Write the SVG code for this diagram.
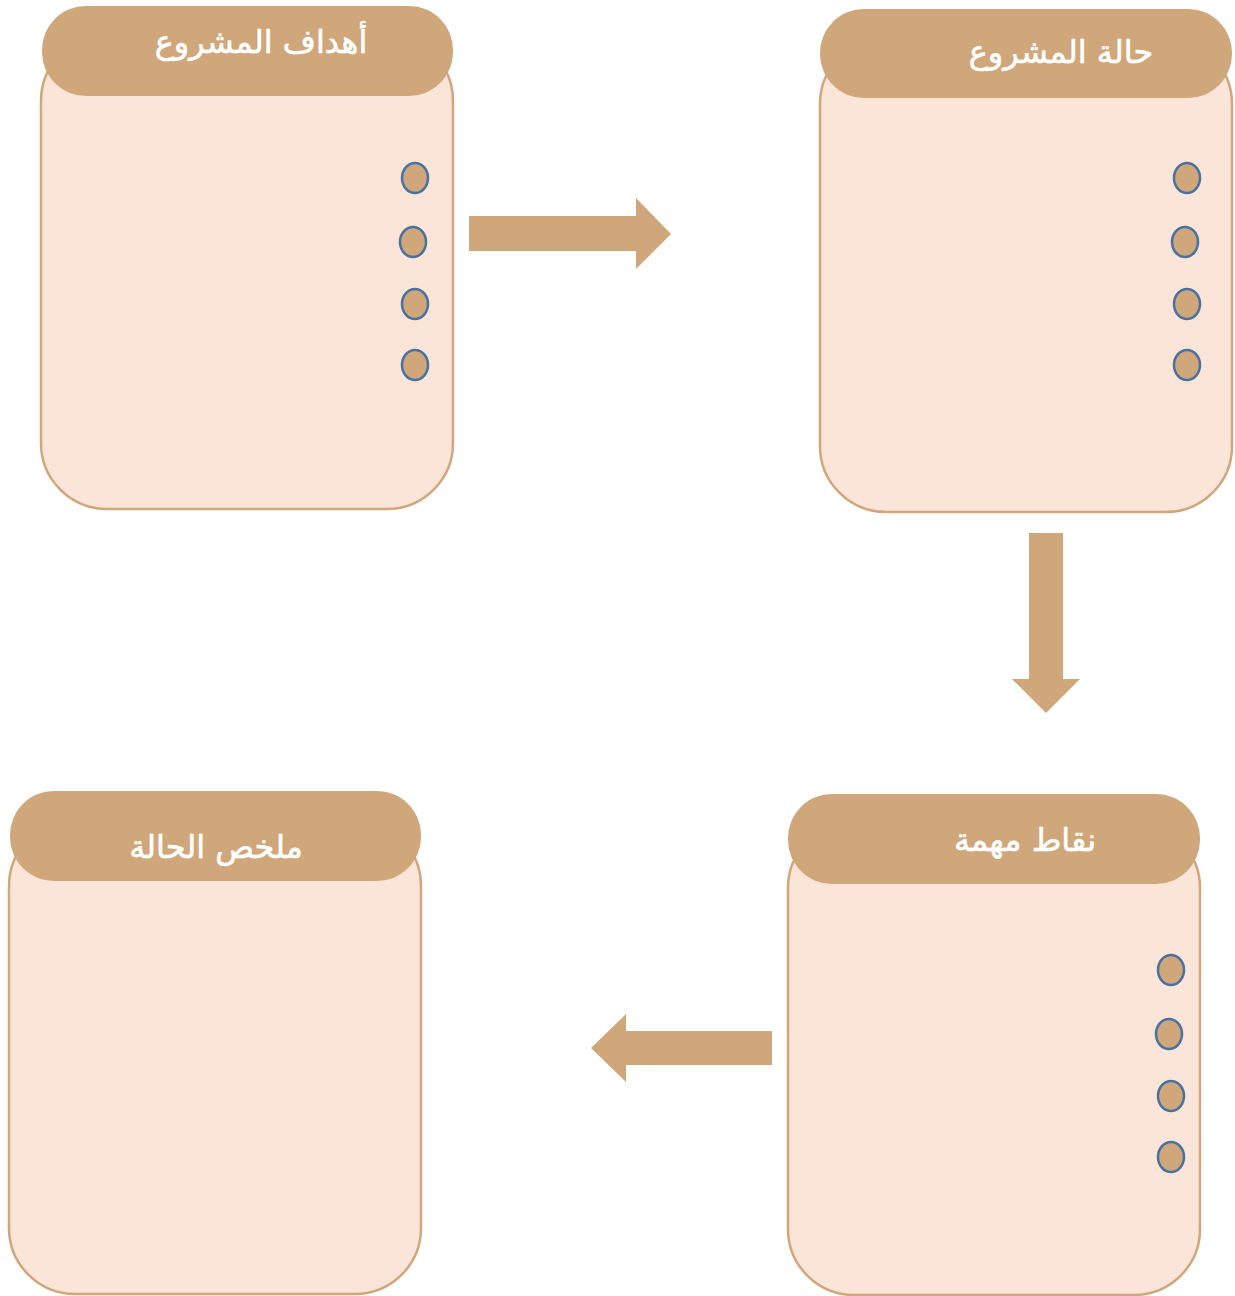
<svg xmlns="http://www.w3.org/2000/svg" width="1235" height="1296" viewBox="0 0 1235 1296">
<style>
.body{fill:#fae5d8;stroke:#d0a77b;stroke-width:2.5}
.head{fill:#d0a77b}
.dot{fill:#d0a77b;stroke:#4a72a0;stroke-width:2.5}
.arrow{fill:#d0a77b}
.t{font-family:"DejaVu Sans","Noto Sans",sans-serif;font-size:32px;fill:#ffffff;stroke:#ffffff;stroke-width:0.6;text-anchor:middle;direction:rtl}
</style>
<rect width="1235" height="1296" fill="#ffffff"/>
<g id="node-goals">
<rect class="body" x="41" y="35" width="412" height="474" rx="66"/>
<rect class="head" x="42" y="6" width="411" height="90" rx="44"/>
<text class="t" x="261" y="53">أهداف المشروع</text>
<ellipse class="dot" cx="415" cy="178" rx="13" ry="15"/>
<ellipse class="dot" cx="413" cy="242" rx="13" ry="15"/>
<ellipse class="dot" cx="415" cy="304" rx="13" ry="15"/>
<ellipse class="dot" cx="415" cy="365" rx="13" ry="15"/>
</g>
<g id="node-status">
<rect class="body" x="820" y="38" width="412" height="474" rx="66"/>
<rect class="head" x="820" y="9" width="412" height="89" rx="44"/>
<text class="t" x="1061" y="63">حالة المشروع</text>
<ellipse class="dot" cx="1187" cy="178" rx="13" ry="15"/>
<ellipse class="dot" cx="1185" cy="242" rx="13" ry="15"/>
<ellipse class="dot" cx="1187" cy="304" rx="13" ry="15"/>
<ellipse class="dot" cx="1187" cy="365" rx="13" ry="15"/>
</g>
<g id="node-points">
<rect class="body" x="788" y="822" width="412" height="473" rx="66"/>
<rect class="head" x="788" y="794" width="412" height="90" rx="44"/>
<text class="t" x="1025" y="851">نقاط مهمة</text>
<ellipse class="dot" cx="1171" cy="970" rx="13" ry="15"/>
<ellipse class="dot" cx="1169" cy="1034" rx="13" ry="15"/>
<ellipse class="dot" cx="1171" cy="1096" rx="13" ry="15"/>
<ellipse class="dot" cx="1171" cy="1157" rx="13" ry="15"/>
</g>
<g id="node-summary">
<rect class="body" x="9" y="820" width="412" height="474" rx="66"/>
<rect class="head" x="10" y="791" width="411" height="90" rx="44"/>
<text class="t" x="216" y="858">ملخص الحالة</text>
</g>
<g id="connectors">
<polygon class="arrow" points="469,216 636,216 636,198 671,234 636,269 636,251 469,251"/>
<polygon class="arrow" points="1029,533 1063,533 1063,679 1080,679 1046,713 1012,679 1029,679"/>
<polygon class="arrow" points="772,1031 626,1031 626,1014 591,1048 626,1082 626,1065 772,1065"/>
</g>
</svg>
